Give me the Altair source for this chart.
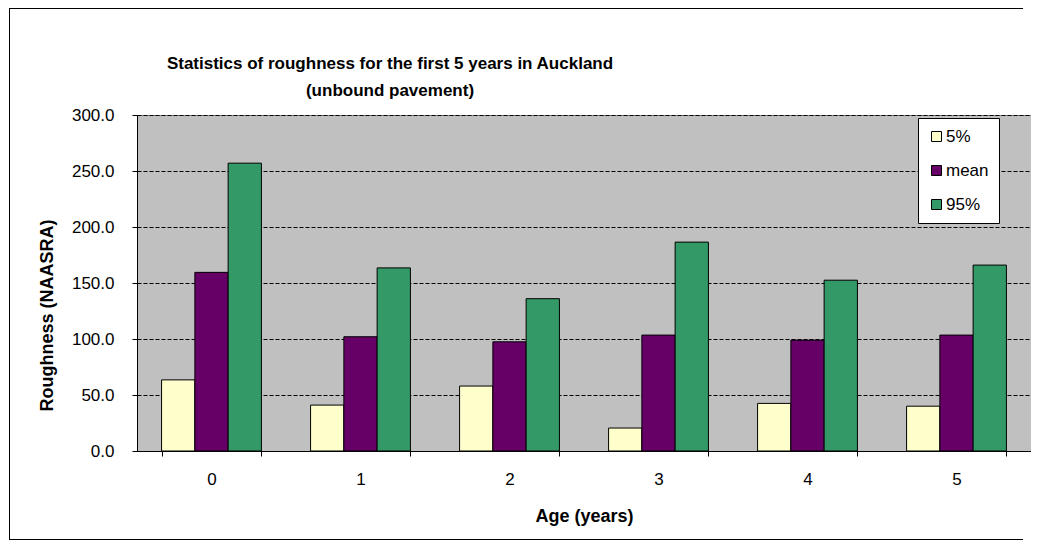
import altair as alt
import pandas as pd

ages = [0, 1, 2, 3, 4, 5]
series_names = ["5%", "mean", "95%"]
p5 = [63.5, 41.0, 58.0, 20.5, 42.5, 40.0]
mean = [159.5, 102.0, 97.5, 103.5, 99.0, 103.5]
p95 = [257.0, 163.5, 136.0, 186.5, 152.5, 166.0]
colors = ["#FFFFCC", "#660066", "#339966"]
y_ticks = [0, 50, 100, 150, 200, 250, 300]

rows = []
for i, a in enumerate(ages):
    for name, vals in zip(series_names, [p5, mean, p95]):
        rows.append({"Age": a, "Statistic": name, "Value": vals[i]})
df = pd.DataFrame(rows)

FONT = "Liberation Sans"

bars = alt.Chart(df).mark_bar(stroke="black", strokeWidth=1).encode(
    x=alt.X(
        "Age:O",
        scale=alt.Scale(paddingInner=0.33, paddingOuter=0.165),
        axis=alt.Axis(
            title="Age (years)",
            labelAngle=0,
            tickBand="extent",
            tickSize=5,
            tickColor="black",
            domainColor="black",
            labelPadding=15,
            labelFontSize=17,
            titleFontSize=18,
            titleFontWeight="bold",
            titleY=65,
            titleBaseline="middle",
        ),
    ),
    xOffset=alt.XOffset(
        "Statistic:N",
        sort=series_names,
        scale=alt.Scale(paddingInner=0, paddingOuter=0),
    ),
    y=alt.Y(
        "Value:Q",
        scale=alt.Scale(domain=[0, 300], nice=False),
        axis=alt.Axis(
            title="Roughness (NAASRA)",
            values=y_ticks,
            format=".1f",
            grid=True,
            gridColor="black",
            gridDash=[4, 2],
            gridWidth=1,
            tickSize=5,
            tickColor="black",
            domainColor="black",
            labelPadding=18,
            labelFontSize=17,
            titleFontSize=18,
            titleFontWeight="bold",
            titleX=-90,
            titleY=200,
            titleAlign="center",
            titleBaseline="middle",
        ),
    ),
    color=alt.Color(
        "Statistic:N",
        sort=series_names,
        scale=alt.Scale(domain=series_names, range=colors),
        legend=alt.Legend(
            title=None,
            orient="none",
            legendX=781,
            legendY=3,
            fillColor="white",
            strokeColor="black",
            padding=10,
            symbolType="square",
            symbolSize=100,
            symbolStrokeColor="black",
            symbolStrokeWidth=1,
            symbolOpacity=1,
            labelFontSize=17,
            labelOffset=1,
            rowPadding=16,
        ),
    ),
)

one = pd.DataFrame({"k": [0]})
frame_left = alt.Chart(one).mark_rule(color="black", strokeWidth=1).encode(
    x=alt.value(-127.5), y=alt.value(-107), y2=alt.value(425)
)
frame_top = alt.Chart(one).mark_rule(color="black", strokeWidth=1).encode(
    x=alt.value(-128), x2=alt.value(886), y=alt.value(-106.5)
)
frame_bottom = alt.Chart(one).mark_rule(color="black", strokeWidth=1).encode(
    x=alt.value(-128), x2=alt.value(886), y=alt.value(424.5)
)

chart = alt.layer(frame_left, frame_top, frame_bottom, bars).properties(
    width=894,
    height=336,
    autosize=alt.AutoSizeParams(type="none"),
    padding={"left": 129, "top": 107, "right": 0, "bottom": 91},
    title=alt.TitleParams(
        text=["Statistics of roughness for the first 5 years in Auckland", "(unbound pavement)"],
        fontSize=17,
        fontWeight="bold",
        font=FONT,
        lineHeight=27,
        anchor="middle",
        frame="group",
        dx=-194,
        offset=-92,
        color="black",
    ),
).configure(font=FONT).configure_axis(
    labelFont=FONT, titleFont=FONT, labelColor="black", titleColor="black"
).configure_legend(labelFont=FONT, labelColor="black").configure_view(
    fill="#C0C0C0", stroke="#808080", strokeWidth=1
)

chart.save("out.html", embed_options={"renderer": "svg", "actions": False})
